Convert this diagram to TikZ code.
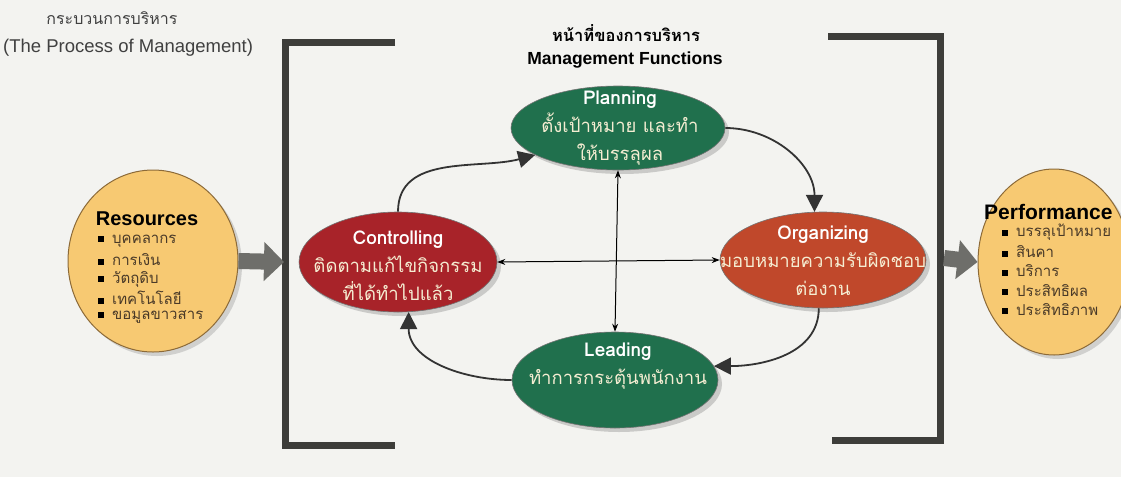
\documentclass[tikz,border=0pt]{standalone}
\usepackage{fontspec}
\setmainfont{Liberation Sans}
\newfontfamily\thaifont[Script=Thai]{Loma}
\usepackage{tikz}
\usetikzlibrary{arrows.meta}
\usetikzlibrary{shapes.geometric}
\usetikzlibrary{shadows}
\usetikzlibrary{positioning}

\definecolor{paper}{HTML}{F3F3F0}
\definecolor{barcol}{HTML}{3D3D3A}
\definecolor{fungreen}{HTML}{20704D}
\definecolor{ctrlred}{HTML}{A82329}
\definecolor{orgred}{HTML}{C0482B}
\definecolor{ioorange}{HTML}{F7C972}
\definecolor{ioedge}{HTML}{8C6A38}
\definecolor{cream}{HTML}{F5EDD2}
\definecolor{listtext}{HTML}{4A3A28}
\definecolor{fatgray}{HTML}{6E6E6A}

\tikzset{
  func/.style={ellipse, draw=black!55, line width=0.6pt, inner sep=0pt,
    drop shadow={shadow xshift=4pt, shadow yshift=-4pt, opacity=0.35}},
  io/.style={ellipse, fill=ioorange, draw=ioedge, line width=1pt, inner sep=0pt,
    drop shadow={shadow xshift=4pt, shadow yshift=-4pt, opacity=0.3}},
  functext/.style={align=center, text=cream, font=\thaifont\fontsize{18.5}{28}\selectfont},
  cyc/.style={line width=1.8pt, draw=black!80, -{Triangle[length=17pt, width=17pt]}},
  cross/.style={line width=1pt, {Stealth[length=8pt, width=6pt]}-{Stealth[length=8pt, width=6pt]}},
  fat/.style={line width=16pt, draw=fatgray, -{Triangle[length=20pt, width=38pt]}},
  bar/.style={line width=7pt, draw=barcol},
  item/.style={anchor=west, text=listtext, inner sep=0pt, font=\thaifont\fontsize{15}{16}\selectfont}
}
\newcommand{\sqbul}{\textcolor{black}{\rule[1pt]{6pt}{6pt}}\hspace{8pt}}
\newcommand{\hd}[1]{{\bfseries\fontsize{19}{22}\selectfont\color{white}#1}}

\begin{document}
\begin{tikzpicture}[x=1pt, y=-1pt]
  \clip (0,0) rectangle (1121,477);
  \fill[paper] (0,0) rectangle (1121,477);

  % titles
  \node[font=\thaifont\fontsize{16}{18}\selectfont, text=black!75] (ttl) at (112,18) {กระบวนการบริหาร};
  \node[anchor=west, inner sep=0pt, font=\fontsize{18.5}{20}\selectfont, text=black!75] (sub) at (3,48) {(The Process of Management)};
  \node[font=\thaifont\bfseries\fontsize{16.5}{18}\selectfont] (fttl) at (626,33) {หน้าที่ของการบริหาร};
  \node[font=\bfseries\fontsize{17.5}{20}\selectfont] (fsub) at (625,60) {Management Functions};

  % brackets
  \draw[bar] (395,42) -- (285,42) -- (285,445) -- (395,445);
  \draw[bar] (828,36) -- (940,36) -- (940,440) -- (832,440);
  \coordinate (lbr) at (284,262);
  \coordinate (rbr) at (944,258);

  % the four functions
  \node[func, fill=fungreen, minimum width=214pt, minimum height=84pt] (plan) at (618,128) {};
  \node[func, fill=ctrlred, minimum width=198pt, minimum height=100pt] (ctrl) at (398,262) {};
  \node[func, fill=orgred, minimum width=206pt, minimum height=96pt] (org) at (823,260) {};
  \node[func, fill=fungreen, minimum width=206pt, minimum height=96pt] (lead) at (615,380) {};

  \node[functext] (plant) at (620,128) {\hd{Planning}\\ตั้งเป้าหมาย และทำ\\ให้บรรลุผล};
  \node[functext] (ctrlt) at (398,266) {\hd{Controlling}\\ติดตามแก้ไขกิจกรรม\\ที่ได้ทำไปแล้ว};
  \node[functext] (orgt) at (823,261) {\hd{Organizing}\\มอบหมายความรับผิดชอบ\\ต่องาน};
  \node[functext] (leadt) at (618,366) {\hd{Leading}\\ทำการกระตุ้นพนักงาน};

  \draw[cyc] (ctrl.north) to[out=90, in=195] (plan.198);
  \draw[cyc] (plan.east) to[out=0, in=90] (org.100);
  \draw[cyc] (org.265) to[out=-90, in=0] (lead.8);
  \draw[cyc] (lead.west) to[out=180, in=-90] (ctrl.282);

  \draw[cross] (ctrl.east) -- (org.west);
  \draw[cross] (plan.south) -- (lead.north);

  % input and output
  \node[io, minimum width=170pt, minimum height=182pt] (res) at (153,261) {};
  \node[io, minimum width=152pt, minimum height=186pt] (perf) at (1054,262) {};

  \node[font=\bfseries\fontsize{20}{22}\selectfont] (rest) at (147,219) {Resources};
  \foreach \t [count=\i] in {บุคคลากร, การเงิน, วัตถุดิบ, เทคโนโลยี, ขอมูลขาวสาร}
    \node[item] at (98,222+19*\i) {\sqbul\t};

  \node[anchor=west, inner sep=0pt, font=\bfseries\fontsize{21}{22}\selectfont] (perft) at (984,212) {Performance};
  \foreach \t [count=\i] in {บรรลุเป้าหมาย, สินคา, บริการ, ประสิทธิผล, ประสิทธิภาพ}
    \node[item] at (1002,213+19.3*\i) {\sqbul\t};

  \draw[fat] (res.east) -- (lbr);
  \draw[fat] (rbr) -- (perf.west);
\end{tikzpicture}
\end{document}
